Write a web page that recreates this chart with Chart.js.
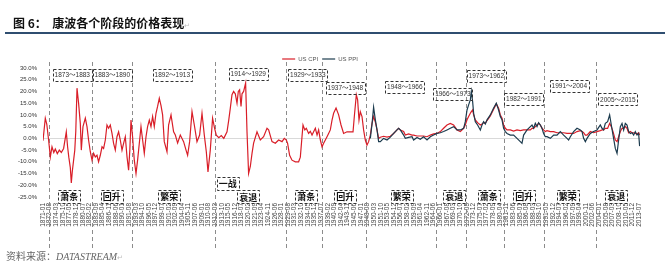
<!DOCTYPE html>
<html><head><meta charset="utf-8">
<script src="https://cdn.jsdelivr.net/npm/chart.js@4.4.0/dist/chart.umd.min.js"></script>
<style>
html,body{margin:0;padding:0;background:#fff;width:665px;height:269px;overflow:hidden;}
#wrap{position:absolute;left:0;top:0;width:665px;height:269px;}
#title{position:absolute;left:13px;top:14px;font-family:"Noto Sans CJK SC";font-weight:bold;font-size:12px;color:#111;white-space:nowrap;line-height:18px;}
#title .m{color:#bbb;font-weight:normal;font-size:7px;}
#rule{position:absolute;left:5px;top:32px;width:660px;height:2px;background:#2f4e70;}
#src{position:absolute;left:6px;top:249px;font-family:"Noto Sans CJK SC";font-size:10px;color:#666;white-space:nowrap;line-height:14px;}
#src i{font-family:"Liberation Serif";}
#src .m{color:#bbb;font-size:7px;}
</style></head>
<body>
<div id="wrap"><canvas id="c" width="665" height="269"></canvas></div>
<div id="title">图 6：&nbsp;&nbsp;康波各个阶段的价格表现<span class="m">↵</span></div>
<div id="rule"></div>
<div id="src">资料来源：<i>DATASTREAM</i><span class="m">↵</span></div>
<script>
// ---------- data ----------
const seriesNames = ['US CPI', 'US PPI'];

const cpiYears = [1871.00,1871.55,1871.91,1872.34,1872.75,1873.15,1873.58,1873.94,1874.42,1874.90,1875.38,1875.93,1876.57,1876.88,1877.17,1877.53,1877.77,1878.01,1878.32,1878.60,1878.84,1879.13,1879.51,1879.92,1880.16,1880.56,1881.12,1881.52,1881.90,1882.31,1882.72,1883.10,1883.51,1883.91,1884.29,1884.70,1885.11,1885.49,1885.90,1886.30,1886.69,1887.09,1887.50,1887.88,1888.29,1888.69,1889.08,1889.48,1889.89,1890.27,1890.68,1891.09,1891.47,1891.76,1892.04,1892.42,1892.83,1893.24,1893.62,1894.03,1894.43,1894.82,1895.22,1895.63,1896.01,1896.42,1896.82,1897.21,1897.61,1898.02,1898.40,1898.81,1899.22,1899.60,1900.00,1900.65,1901.03,1901.61,1902.23,1902.64,1903.19,1903.83,1904.62,1905.20,1905.58,1906.06,1906.63,1907.18,1907.82,1908.45,1909.02,1909.57,1910.05,1910.45,1911.00,1911.55,1912.03,1912.44,1913.04,1913.63,1914.23,1915.00,1915.43,1915.79,1916.19,1916.58,1916.98,1917.39,1917.70,1918.01,1918.35,1918.59,1918.97,1919.45,1919.78,1920.16,1920.57,1920.98,1921.36,1922.17,1922.96,1923.75,1924.56,1924.95,1925.76,1926.55,1927.34,1928.15,1928.70,1929.18,1929.49,1929.97,1930.54,1931.33,1932.12,1932.53,1932.93,1933.17,1933.60,1933.96,1934.51,1934.92,1935.33,1935.71,1936.12,1936.53,1936.91,1937.32,1937.72,1938.10,1938.51,1938.91,1939.29,1939.70,1940.11,1940.49,1941.07,1941.69,1942.26,1942.88,1943.69,1944.48,1945.13,1945.44,1945.92,1946.23,1946.56,1946.87,1947.28,1947.66,1948.07,1948.47,1948.86,1949.27,1949.67,1950.05,1950.46,1950.87,1951.25,1951.66,1952.44,1953.26,1954.05,1954.84,1955.65,1956.03,1956.44,1957.23,1957.63,1958.42,1959.24,1959.62,1960.43,1961.22,1962.01,1962.82,1963.61,1964.40,1965.21,1966.00,1966.79,1967.60,1968.39,1969.18,1970.00,1970.79,1971.58,1971.98,1972.39,1972.77,1973.18,1973.42,1973.73,1973.97,1974.37,1974.92,1975.57,1975.97,1976.36,1976.76,1977.17,1977.96,1978.75,1979.39,1979.94,1980.35,1980.76,1981.14,1981.55,1981.95,1982.74,1983.53,1984.34,1985.13,1985.92,1986.74,1987.53,1987.93,1988.31,1988.72,1989.13,1989.51,1989.92,1990.32,1990.70,1991.11,1991.52,1992.31,1993.10,1993.91,1994.70,1995.49,1996.30,1996.68,1997.09,1997.88,1998.69,1999.48,1999.89,2000.27,2000.68,2001.08,2001.87,2002.66,2003.47,2004.26,2004.67,2005.05,2005.46,2006.01,2006.49,2006.89,2007.30,2007.85,2008.26,2008.64,2009.05,2009.45,2009.84,2010.24,2010.65,2011.03,2011.44,2011.84,2012.23,2012.63,2013.04,2013.42,2013.66];
const cpiValues = [-1.0,8.6,6.0,-0.7,-7.9,-3.6,-6.0,-4.5,-6.5,-5.0,-6.0,-4.3,2.8,-3.6,-8.0,-12.5,-19.0,-14.0,-9.3,-5.0,3.0,21.4,15.0,6.4,-5.0,5.0,8.6,5.0,-0.7,-5.7,-9.3,-6.4,-7.9,-7.2,-10.0,-7.2,-3.6,-4.3,-0.7,5.7,4.3,5.7,2.1,-2.1,-5.0,0.7,2.8,-0.7,-5.0,-2.1,0.7,-7.9,-13.6,-5.0,7.8,0.7,-9.3,-15.0,-9.3,-2.1,5.0,-0.7,-6.4,0.7,5.0,7.8,5.0,9.3,5.0,10.7,13.6,17.1,14.0,10.0,-1.4,-5.7,5.7,10.0,2.8,1.4,-2.0,1.4,-1.4,-5.0,-7.2,-1.4,11.4,5.7,-1.4,1.4,10.7,1.4,-5.7,-14.3,-5.0,8.6,4.3,1.4,0.3,1.2,0.0,2.8,8.0,12.9,18.6,20.0,19.0,15.0,20.0,20.7,13.6,19.0,20.0,23.6,2.8,-15.0,-12.0,-6.4,-2.0,2.8,-0.7,0.7,4.3,3.6,-1.4,-2.1,-0.7,-1.4,0.0,-0.7,-2.1,-7.2,-9.3,-10.0,-10.0,-8.0,0.7,5.7,3.6,4.3,2.1,3.0,1.4,2.8,4.3,1.4,3.6,-0.7,-3.6,-2.1,-0.7,0.7,2.1,3.6,7.8,10.7,12.9,10.0,5.7,2.1,2.8,2.8,2.8,9.3,18.6,16.4,7.8,11.4,9.3,3.6,-0.7,-2.9,-1.4,1.4,6.4,9.3,7.0,3.6,0.0,0.5,0.9,0.5,0.9,2.1,3.6,4.3,3.6,2.9,1.4,1.9,1.4,1.4,1.0,1.0,1.0,0.7,1.4,1.9,2.1,2.9,4.3,5.7,6.4,5.7,3.6,2.9,4.3,5.7,7.9,9.3,10.7,11.4,12.1,10.0,7.9,6.7,5.7,6.1,6.7,6.4,7.6,9.6,12.4,14.7,12.9,10.0,8.6,5.7,4.3,3.6,3.6,3.1,3.6,3.3,3.6,3.6,3.6,4.3,4.3,5.0,5.7,6.4,5.7,4.3,3.6,2.9,3.3,2.9,2.9,2.4,2.4,2.4,2.1,2.1,2.1,2.1,2.9,3.3,2.9,2.4,1.4,1.4,2.9,2.4,2.9,3.3,3.6,3.6,4.3,4.3,6.4,5.0,2.9,-0.7,-1.4,0.7,2.9,4.3,4.3,5.0,4.3,2.4,2.9,2.4,2.4,2.1,1.9,2.4,1.4];

const ppiYears = [1949.27,1949.67,1950.05,1950.46,1950.87,1951.25,1951.66,1952.44,1953.26,1954.05,1954.84,1955.65,1956.03,1956.44,1957.23,1957.63,1958.42,1959.24,1959.62,1960.43,1961.22,1962.01,1962.82,1963.61,1964.40,1965.21,1966.00,1966.79,1967.60,1968.39,1969.18,1970.00,1970.79,1971.58,1971.98,1972.39,1972.77,1973.18,1973.42,1973.73,1973.97,1974.37,1974.92,1975.57,1975.97,1976.36,1976.76,1977.17,1977.96,1978.75,1979.39,1979.94,1980.35,1980.76,1981.14,1981.55,1981.95,1982.74,1983.53,1984.34,1985.13,1985.53,1985.92,1986.74,1987.53,1987.93,1988.31,1988.72,1989.13,1989.51,1989.92,1990.32,1990.70,1991.11,1991.52,1992.31,1993.10,1993.91,1994.70,1995.49,1996.30,1996.68,1997.09,1997.88,1998.69,1999.48,1999.89,2000.27,2000.68,2001.08,2001.87,2002.66,2003.47,2004.26,2004.67,2005.05,2005.46,2006.01,2006.49,2006.89,2007.30,2007.85,2008.26,2008.64,2009.05,2009.45,2009.84,2010.24,2010.65,2011.03,2011.44,2011.84,2012.23,2012.63,2013.04,2013.42,2013.66];
const ppiValues = [0.0,6.0,13.3,8.0,3.6,-1.4,-1.4,0.0,-0.7,0.5,2.1,3.6,4.3,3.6,1.4,0.0,0.4,0.7,-0.7,0.4,-0.4,0.7,-0.7,0.7,1.4,2.1,2.4,2.9,3.6,4.3,5.0,3.6,3.6,4.3,7.1,12.1,14.3,16.4,20.0,15.7,10.7,7.1,5.7,3.6,5.7,7.1,6.1,7.9,10.0,12.9,15.0,12.1,9.3,7.9,4.3,2.9,2.1,1.4,1.4,0.0,-1.4,-2.1,1.4,3.6,5.0,5.7,4.3,6.4,5.0,6.7,5.7,4.3,2.1,0.7,0.7,0.0,1.4,1.4,2.9,1.4,0.0,-0.7,0.7,2.9,4.3,3.6,2.9,0.0,-1.4,0.0,2.1,2.9,3.6,5.7,4.3,3.6,6.4,7.1,10.0,5.7,1.4,-4.3,-6.4,-0.7,5.0,6.4,3.6,6.4,5.7,2.9,2.1,2.4,1.4,2.9,1.4,2.1,-3.3];

const tickLabels = ['1871-01','1872-08','1874-03','1875-10','1877-05','1878-12','1880-07','1882-02','1883-09','1885-04','1886-11','1888-06','1890-01','1891-08','1893-03','1894-10','1896-05','1897-12','1899-07','1901-02','1902-09','1904-04','1905-11','1907-06','1909-01','1910-08','1912-03','1913-10','1915-05','1916-12','1918-07','1920-02','1921-09','1923-04','1924-11','1926-06','1928-01','1929-08','1931-03','1932-10','1934-05','1935-12','1937-07','1939-02','1940-09','1942-04','1943-11','1945-06','1947-01','1948-08','1950-03','1951-10','1953-05','1954-12','1956-07','1958-02','1959-09','1961-04','1962-11','1964-06','1966-01','1967-08','1969-03','1970-10','1972-05','1973-12','1975-07','1977-02','1978-09','1980-04','1981-11','1983-06','1985-01','1986-08','1988-03','1989-10','1991-05','1992-12','1994-07','1996-02','1997-09','1999-04','2000-11','2002-06','2004-01','2005-08','2007-03','2008-10','2010-05','2011-12','2013-07'];

// phase boundaries (years) and labels
const phaseLines = [1872.51,1882.79,1892.35,1912.20,1929.18,1937.79,1948.31,1965.05,1972.23,1981.31,1990.88,2003.31];
const periodText = ['1873～1883','1883～1890','1892～1913','1914～1929','1929～1933','1937～1948','1948～1966','1966～1973','1973～1962','1982～1991','1991～2004','2005～2015'];
const periodX = [1878.0,1887.57,1901.92,1920.08,1934.32,1943.29,1957.51,1969.0,1977.0,1985.97,1996.85,2008.45];
const periodY = [27.1,27.1,27.1,27.5,27.1,21.6,22.0,19.0,26.7,16.8,22.4,16.6];
const phaseText = ['萧条','回升','繁荣','一战','衰退','萧条','回升','繁荣','衰退','萧条','回升','繁荣','衰退'];
const phaseX = [1877.29,1887.45,1901.2,1915.19,1920.09,1933.96,1943.29,1956.8,1969.35,1977.6,1986.09,1996.49,2008.09];
const phaseY = [-24.7,-24.7,-24.7,-19.2,-24.9,-24.7,-24.7,-24.7,-24.7,-24.7,-24.7,-24.7,-24.7];

// ---------- helpers ----------
const toYear = s => { const [yy, mm] = s.split('-').map(Number); return yy + (mm - 1) / 12; };
const pts = (xs, ys) => xs.map((v, i) => ({x: v, y: ys[i]}));

const annot = {
  id: 'annot',
  afterLayout(chart) { chart.legend.top += 4; chart.legend.bottom += 4; },
  beforeDatasetsDraw(chart) {
    const {ctx, chartArea: ca, scales: {x}} = chart;
    ctx.save();
    ctx.strokeStyle = '#8c8c8c'; ctx.lineWidth = 1; ctx.setLineDash([4, 3]);
    phaseLines.forEach(v => {
      const px = Math.round(x.getPixelForValue(v)) + 0.5;
      ctx.beginPath(); ctx.moveTo(px, ca.top - 6); ctx.lineTo(px, ca.bottom + 53); ctx.stroke();
    });
    ctx.restore();
  },
  afterDatasetsDraw(chart) {
    const {ctx, scales: {x, y}} = chart;
    ctx.save();
    ctx.textAlign = 'center'; ctx.textBaseline = 'middle';
    ctx.strokeStyle = '#333'; ctx.lineWidth = 1; ctx.setLineDash([3, 2]);
    ctx.font = '6.5px "Liberation Sans", "Noto Sans CJK SC"';
    periodText.forEach((t, i) => {
      const cx = x.getPixelForValue(periodX[i]), cy = y.getPixelForValue(periodY[i]);
      const w = Math.round(ctx.measureText(t).width + 4), h = 12;
      const l = Math.round(cx - w / 2) + 0.5, tp = Math.round(cy - h / 2) + 0.5;
      ctx.strokeRect(l, tp, w, h);
      ctx.fillStyle = '#333'; ctx.fillText(t, cx, cy + 0.5);
    });
    ctx.font = 'bold 9px "Noto Sans CJK SC"';
    phaseText.forEach((t, i) => {
      const cx = x.getPixelForValue(phaseX[i]), cy = y.getPixelForValue(phaseY[i]);
      const w = Math.round(ctx.measureText(t).width + 4), h = 13;
      const l = Math.round(cx - w / 2) + 0.5, tp = Math.round(cy - h / 2) + 0.5;
      ctx.fillStyle = '#fff'; ctx.fillRect(l, tp, w, h);
      ctx.strokeRect(l, tp, w, h);
      ctx.fillStyle = '#111'; ctx.fillText(t, cx, cy + 0.5);
    });
    ctx.restore();
  }
};

new Chart(document.getElementById('c'), {
  type: 'line',
  data: {
    datasets: [
      {label: seriesNames[0], data: pts(cpiYears, cpiValues), borderColor: '#d91e28', backgroundColor: '#d91e28', borderWidth: 1.2, pointRadius: 0, tension: 0, order: 1},
      {label: seriesNames[1], data: pts(ppiYears, ppiValues), borderColor: '#1c3b4e', backgroundColor: '#1c3b4e', borderWidth: 1.2, pointRadius: 0, tension: 0, order: 0}
    ]
  },
  options: {
    responsive: false, animation: false, devicePixelRatio: 1, events: [],
    layout: {padding: {top: 48, right: 25, left: 0, bottom: 0}},
    plugins: {
      tooltip: {enabled: false},
      legend: {
        position: 'top', align: 'center',
        labels: {
          usePointStyle: true, pointStyle: 'line', pointStyleWidth: 13, boxHeight: 6,
          padding: 4, color: '#555', font: {size: 6, family: '"Liberation Sans"'},
          sort: (a, b) => a.datasetIndex - b.datasetIndex
        }
      }
    },
    scales: {
      x: {
        type: 'linear', min: 1871, max: 2013.75,
        afterBuildTicks: s => { s.ticks = tickLabels.map(t => ({value: toYear(t)})); },
        afterFit: s => { s.height = 72; },
        grid: {display: false, drawTicks: false},
        border: {display: false},
        ticks: {autoSkip: false, minRotation: 90, maxRotation: 90, padding: 6, color: '#444',
          font: {size: 6.5, family: '"Liberation Sans"'},
          callback: (v, i) => tickLabels[i]}
      },
      y: {
        min: -25, max: 30,
        afterFit: s => { s.width = 43; },
        grid: {drawTicks: false, color: c => c.tick && c.tick.value === 0 ? '#d9d9d9' : 'rgba(0,0,0,0)'},
        border: {display: false},
        ticks: {stepSize: 5, padding: 6, color: '#333', font: {size: 6, family: '"Liberation Sans"'},
          callback: v => v.toFixed(1) + '%'}
      }
    }
  },
  plugins: [annot]
});
</script>
</body></html>
